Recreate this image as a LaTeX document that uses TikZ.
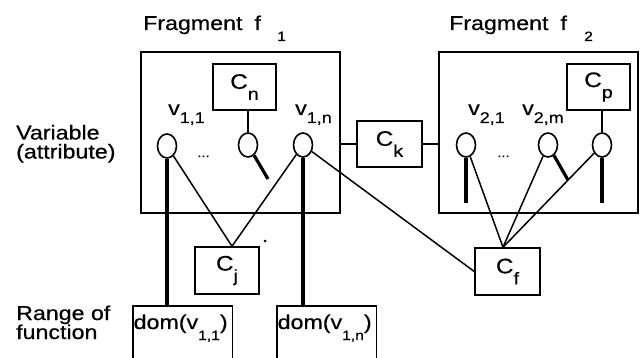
\documentclass[tikz,border=0pt]{standalone}
\usepackage{fontspec}
\setmainfont{Liberation Sans}[FakeStretch=1.16,FakeBold=0.5]
\usetikzlibrary{shapes.geometric}
\newcommand\mainsz{\fontsize{20}{21}\selectfont}
\newcommand\twolinesz{\fontsize{20}{19}\selectfont}
\newcommand\boxsz{\fontsize{21}{22}\selectfont}
\newcommand\subsz{\fontsize{15.5}{15.5}\selectfont}
\newcommand\boxsubsz{\fontsize{17}{17}\selectfont}
\newcommand\smallsubsz{\fontsize{13.5}{13.5}\selectfont}
\newcommand\vsub[1]{\raisebox{-8pt}{\subsz #1}}
\newcommand\csub[1]{\raisebox{-11pt}{\boxsubsz #1}}
\newcommand\dsub[1]{\raisebox{-11pt}{\smallsubsz #1}}
\begin{document}
\begin{tikzpicture}[x=1pt,y=-1pt,
  frag/.style={draw, line width=1.5pt, inner sep=0pt},
  cbox/.style={draw, line width=1.5pt, inner sep=0pt, minimum width=63pt, minimum height=46pt, font=\boxsz},
  var/.style={draw, ellipse, minimum width=19pt, minimum height=24pt, inner sep=0pt, line width=1.6pt},
  thinline/.style={line width=1.5pt},
  thickline/.style={line width=3.2pt},
  lbl/.style={inner sep=0pt, anchor=base west, font=\mainsz},
  twoline/.style={inner sep=0pt, anchor=base west, align=left, font=\twolinesz},
  sublbl/.style={inner sep=0pt, anchor=base west, font=\smallsubsz},
  openbox/.style={inner sep=0pt, anchor=north west, minimum width=99pt, minimum height=52pt}
]
\useasboundingbox[fill=white] (0,0) rectangle (643,358);

% fragments
\node[frag, minimum width=199pt, minimum height=161pt] (f1) at (240.5,132.5) {};
\node[frag, minimum width=199pt, minimum height=161pt] (f2) at (538.5,132.5) {};
\node[lbl] (t1) at (143,30) {Fragment\hspace{12pt}f};
\node[sublbl] (t1s) at (277,41) {1};
\node[lbl] (t2) at (449,30) {Fragment\hspace{12pt}f};
\node[sublbl] (t2s) at (584,41) {2};

% left labels (anchor = baseline of the last line)
\node[twoline] (l1) at (16,158.5) {Variable\\(attribute)};
\node[twoline] (l3) at (16,339) {Range of\\function};

% constraint boxes
\node[cbox] (Cn) at (244.5,87) {C\csub{n}};
\node[cbox] (Cp) at (598.5,87) {C\csub{p}};
\node[cbox, minimum width=65pt] (Ck) at (389.5,144) {C\csub{k}};
\node[cbox, minimum width=64pt, minimum height=47pt] (Cj) at (227,270.5) {C\csub{j}};
\node[cbox, minimum width=65pt, minimum height=47pt] (Cf) at (507.5,271.5) {C\csub{f}};

% variables
\node[var] (a11) at (167,146) {};
\node[var] (an)  at (248,145) {};
\node[var] (a1n) at (303,145) {};
\node[var] (a21) at (466,145) {};
\node[var] (a2m) at (548,145) {};
\node[var] (ap)  at (602,145) {};

\node[lbl] (v11) at (168,115) {v\vsub{1,1}};
\node[lbl] (v1n) at (295,115) {v\vsub{1,n}};
\node[lbl] (v21) at (468,115) {v\vsub{2,1}};
\node[lbl] (v2m) at (522,115) {v\vsub{2,m}};
\node[lbl] (dots1) at (197,157) {\fontsize{13}{13}\selectfont ...};
\node[lbl] (dots2) at (497,157) {\fontsize{13}{13}\selectfont ...};

% domain boxes
\node[openbox] (d11) at (133,306) {};
\node[openbox] (d1n) at (277,306) {};
\draw[line width=1.5pt] (d11.south west) -- (d11.north west) -- (d11.north east) -- (d11.south east);
\draw[line width=1.5pt] (d1n.south west) -- (d1n.north west) -- (d1n.north east) -- (d1n.south east);
\node[lbl] (d11t) at (133.5,329) {dom(v\dsub{1,1})};
\node[lbl] (d1nt) at (277.5,329) {dom(v\dsub{1,n})};

% helper coordinates
\coordinate (japex) at ([xshift=5pt]Cj.north);
\coordinate (fapex) at ([xshift=-4.5pt]Cf.north);
\coordinate (sn) at (268,179);
\coordinate (sm) at (568,180);
\coordinate (e21) at (466,203);
\coordinate (ep) at (602,203);

% connectors
\draw[thinline] (an.north) -- (an.north |- Cn.south);
\draw[thinline] (ap.north) -- (ap.north |- Cp.south);
\draw[thinline] (Ck.west) -- (Ck.west -| f1.east);
\draw[thinline] (Ck.east) -- (Ck.east -| f2.west);

\draw[thickline] (an) -- (sn);
\draw[thickline] (a2m) -- (sm);
\draw[thickline] (a11.south) -- (a11.south |- d11.north);
\draw[thickline] (a1n.south) -- (a1n.south |- d1n.north);
\draw[thickline] (a21.south) -- (e21);
\draw[thickline] (ap.south) -- (ep);

\draw[thinline] (a11) -- (japex);
\draw[thinline] (a1n) -- (japex);
\draw[thinline] (a1n) -- (Cf.west);
\draw[thinline] (a21) -- (fapex);
\draw[thinline] (a2m) -- (fapex);
\draw[thinline] (ap) -- (fapex);

\fill (265,241) circle (1.5pt);
\end{tikzpicture}
\end{document}
